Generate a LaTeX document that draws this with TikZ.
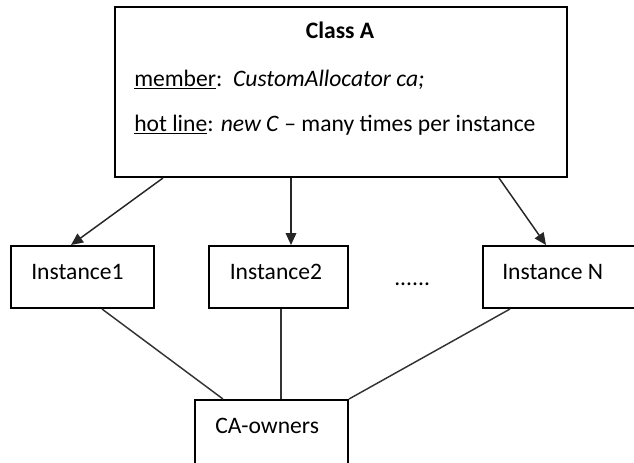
\documentclass[tikz,border=0pt]{standalone}
\usepackage{fontspec}
\setmainfont{Carlito}
\usetikzlibrary{arrows.meta,calc}
\begin{document}
\begin{tikzpicture}[x=0.75pt,y=-0.75pt,
  box/.style={draw=black,line width=1.5pt,fill=white,inner sep=0pt},
  lbl/.style={anchor=base west,inner sep=0pt,font=\fontsize{17.7pt}{21pt}\selectfont},
  arr/.style={draw=black!85,line width=1.1pt,-{Triangle[length=9pt,width=8pt]}},
  conn/.style={draw=black!80,line width=1.1pt}]
\useasboundingbox (0,0) rectangle (634,462);
% boxes
\node[box,minimum width={452*0.75pt},minimum height={170*0.75pt}] (cA) at (341,92) {};
\node[box,minimum width={143*0.75pt},minimum height={62*0.75pt}] (i1) at (82.5,277) {};
\node[box,minimum width={139*0.75pt},minimum height={62*0.75pt}] (i2) at (278.5,277) {};
\node[box,minimum width={162*0.75pt},minimum height={62*0.75pt}] (iN) at (564,277) {};
\node[box,minimum width={153*0.75pt},minimum height={75*0.75pt}] (ca) at (271.5,437.5) {};
% texts
\node[lbl,anchor=base,font=\fontsize{17.7pt}{21pt}\selectfont\bfseries] (tA) at (340,38) {Class A};
\node[lbl] (tm) at (134,86) {\underline{member}:\ \ \textit{CustomAllocator ca;}};
\node[lbl] (th) at (134,131) {\underline{hot line}: \textit{new C} – many times per instance};
\node[lbl] (t1) at (31,279) {Instance1};
\node[lbl] (t2) at (229.5,279) {Instance2};
\node[lbl] (tN) at (502,279) {Instance N};
\node[lbl] (td) at (394,285) {......};
\node[lbl] (tc) at (215,433) {CA-owners};
% arrows
\draw[arr] ([xshift={49*0.75pt}]cA.south west) -- ([xshift={61*0.75pt}]i1.north west);
\draw[arr] ([xshift={177*0.75pt}]cA.south west) -- ([xshift={83*0.75pt}]i2.north west);
\draw[arr] ([xshift={385*0.75pt}]cA.south west) -- ([xshift={64*0.75pt}]iN.north west);
% lines
\draw[conn] ([xshift={92*0.75pt}]i1.south west) -- ([xshift={29*0.75pt}]ca.north west);
\draw[conn] ([xshift={73*0.75pt}]i2.south west) -- ([xshift={87*0.75pt}]ca.north west);
\draw[conn] ([xshift={28*0.75pt}]iN.south west) -- (ca.north east);
\end{tikzpicture}
\end{document}
